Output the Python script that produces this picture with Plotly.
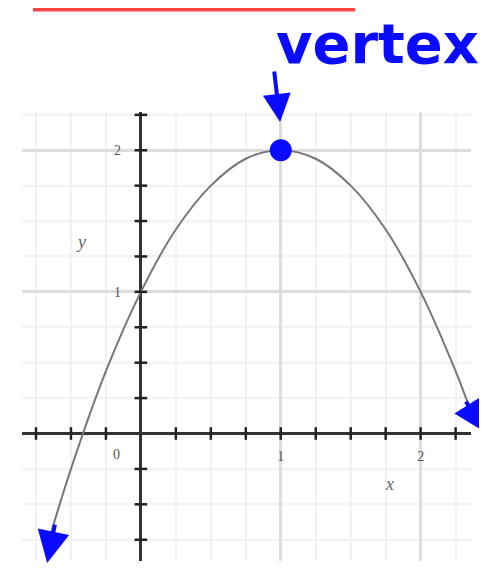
import plotly.graph_objects as go

# Points read along the parabola in the picture
curva_x = [-0.675, -0.5, -0.25, 0, 0.25, 0.5, 0.75, 1, 1.25, 1.5, 1.75, 2, 2.25, 2.35]
curva_y = [-0.81, -0.25, 0.44, 1.0, 1.44, 1.75, 1.94, 2.0, 1.94, 1.75, 1.44, 1.0, 0.44, 0.18]

vertice_x = [1]
vertice_y = [2]

# Tick marks along the axes
marcas_x = [-0.75, -0.5, -0.25, 0.25, 0.5, 0.75, 1, 1.25, 1.5, 1.75, 2, 2.25]
marcas_y = [-0.75, -0.5, -0.25, 0.25, 0.5, 0.75, 1, 1.25, 1.5, 1.75, 2, 2.25]
etiquetas = [1, 2]

# Hand-drawn arrow tips at the ends of the curve and the note position (data coords)
punta_izq = (-0.67, -0.915)
punta_der = (2.46, 0.01)
nota_pos = (1.69, 3.0)

rango_x = [-0.85, 2.36]
rango_y = [-0.9, 2.27]

azul = '#0a0aff'


def a_papel(x, y):
    """Convierte coordenadas de datos a fracciones del area de trazado."""
    return ((x - rango_x[0]) / (rango_x[1] - rango_x[0]),
            (y - rango_y[0]) / (rango_y[1] - rango_y[0]))


fig = go.Figure()

fig.add_trace(go.Scatter(x=curva_x, y=curva_y, mode='lines', line=dict(color='#777777', width=2, shape='spline'),
                         hoverinfo='skip', showlegend=False))

fig.add_trace(go.Scatter(x=marcas_x, y=[0] * len(marcas_x), mode='markers',
                         marker=dict(symbol='line-ns', size=9, line=dict(color='#222222', width=2.5)),
                         hoverinfo='skip', showlegend=False))
fig.add_trace(go.Scatter(x=[0] * len(marcas_y), y=marcas_y, mode='markers',
                         marker=dict(symbol='line-ew', size=9, line=dict(color='#222222', width=2.5)),
                         hoverinfo='skip', showlegend=False))

fig.add_trace(go.Scatter(x=vertice_x, y=vertice_y, mode='markers',
                         marker=dict(color=azul, size=22, line=dict(width=0)),
                         showlegend=False))

fuente_ejes = dict(family='Liberation Serif', size=14, color='#555555')

# the page body adds 8px of margin, so the margins are reduced by that much
fig.update_layout(
    width=487, height=569,
    margin=dict(l=14, r=24, t=104, b=16),
    plot_bgcolor='white', paper_bgcolor='white',
    xaxis=dict(range=rango_x, tickvals=etiquetas, ticktext=[str(v) for v in etiquetas],
               anchor='free', position=a_papel(0, 0)[1], automargin=False,
               showgrid=True, gridcolor='#dddddd', gridwidth=2.5,
               zeroline=True, zerolinecolor='#333333', zerolinewidth=2.5,
               showline=False, ticks='', ticklabelstandoff=12, tickfont=fuente_ejes,
               minor=dict(dtick=0.25, tick0=0, showgrid=True, gridcolor='#f2f2f2', gridwidth=2)),
    yaxis=dict(range=rango_y, tickvals=etiquetas, ticktext=[str(v) for v in etiquetas],
               anchor='free', position=a_papel(0, 0)[0], automargin=False,
               showgrid=True, gridcolor='#dddddd', gridwidth=2.5,
               zeroline=True, zerolinecolor='#333333', zerolinewidth=2.5,
               showline=False, ticks='', ticklabelstandoff=20, tickfont=fuente_ejes,
               minor=dict(dtick=0.25, tick0=0, showgrid=True, gridcolor='#f2f2f2', gridwidth=2)),
)

# origin label and axis names
fig.add_annotation(x=0, y=0, text='0', showarrow=False, xshift=-24, yshift=-21, font=fuente_ejes)
fig.add_annotation(x=1.78, y=-0.355, text='<i>x</i>', showarrow=False,
                   font=dict(family='Liberation Serif', size=18, color='#666666'))
fig.add_annotation(x=-0.43, y=1.35, text='<i>y</i>', showarrow=False,
                   font=dict(family='Liberation Serif', size=18, color='#666666'))

# handwritten note
nx, ny = a_papel(*nota_pos)
fig.add_annotation(x=nx, y=ny, xref='paper', yref='paper', xanchor='center', yanchor='top',
                   text='vertex', showarrow=False,
                   font=dict(family='DejaVu Sans', size=56, color=azul, weight='bold'))
fig.add_annotation(x=0.995, y=2.2, ax=-6, ay=-52, text='', showarrow=True,
                   arrowhead=2, arrowsize=1.4, arrowwidth=4, arrowcolor=azul)

# arrows at the ends of the curve
lx, ly = a_papel(*punta_izq)
fig.add_annotation(x=lx, y=ly, xref='paper', yref='paper', ax=8, ay=-40, text='', showarrow=True,
                   arrowhead=2, arrowsize=1.6, arrowwidth=4, arrowcolor=azul)
rx, ry = a_papel(*punta_der)
fig.add_annotation(x=rx, y=ry, xref='paper', yref='paper', ax=-20, ay=-32, text='', showarrow=True,
                   arrowhead=2, arrowsize=1.6, arrowwidth=4, arrowcolor=azul)

# red underline at the top
fig.add_shape(type='line', xref='paper', yref='paper', x0=0.0245, x1=0.742, y0=1.2283, y1=1.2283,
              line=dict(color='#ff4444', width=4))

fig.write_html("out.html")
